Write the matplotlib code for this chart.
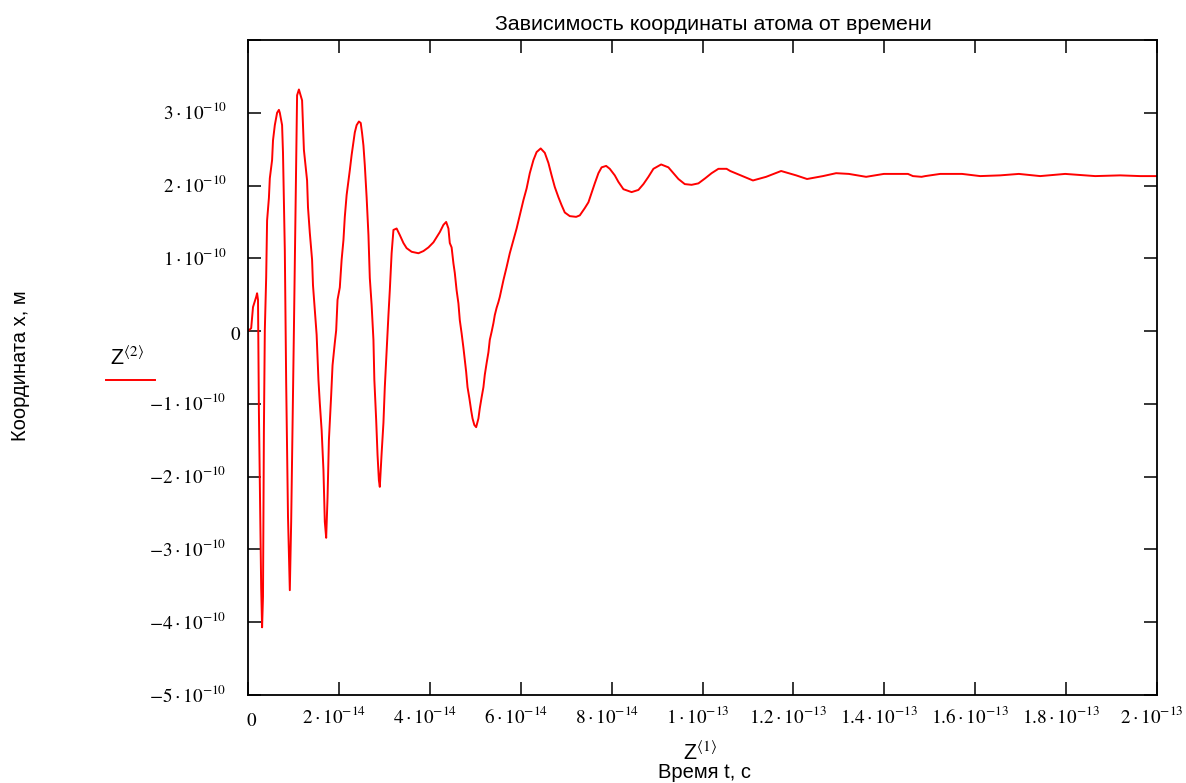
import numpy as np
import matplotlib
matplotlib.use('Agg')
import matplotlib.pyplot as plt
import matplotlib.transforms as mtransforms
from matplotlib.lines import Line2D

plt.rcParams['mathtext.fontset'] = 'stix'
plt.rcParams['font.family'] = ['Liberation Sans', 'DejaVu Sans']

# ---- data: time in 1e-14 s, coordinate in 1e-10 m ----
time_e14 = [
    0.00, 0.07, 0.11, 0.18, 0.20, 0.22, 0.24, 0.29, 0.31, 0.33, 0.35, 0.37, 0.40, 0.42,
    0.46, 0.48, 0.53, 0.55, 0.59, 0.64, 0.68, 0.70, 0.75, 0.77, 0.81, 0.84, 0.88, 0.92,
    0.95, 0.99, 1.01, 1.06, 1.08, 1.12, 1.19, 1.23, 1.30, 1.32, 1.36, 1.41, 1.43, 1.47,
    1.51, 1.55, 1.58, 1.62, 1.66, 1.69, 1.72, 1.75, 1.78, 1.83, 1.86, 1.91, 1.94, 1.97,
    2.02, 2.06, 2.10, 2.13, 2.17, 2.24, 2.28, 2.32, 2.35, 2.39, 2.44, 2.48, 2.51, 2.54,
    2.57, 2.61, 2.65, 2.68, 2.72, 2.76, 2.78, 2.82, 2.85, 2.88, 2.90, 2.94, 2.98, 3.01,
    3.05, 3.09, 3.12, 3.16, 3.20, 3.27, 3.34, 3.42, 3.49, 3.60, 3.75, 3.86, 3.97, 4.08,
    4.15, 4.22, 4.30, 4.36, 4.41, 4.44, 4.48, 4.52, 4.55, 4.59, 4.63, 4.66, 4.70, 4.74,
    4.77, 4.80, 4.83, 4.87, 4.91, 4.94, 4.98, 5.02, 5.07, 5.10, 5.14, 5.18, 5.21, 5.25,
    5.29, 5.32, 5.36, 5.40, 5.43, 5.47, 5.51, 5.54, 5.62, 5.69, 5.76, 5.84, 5.91, 5.98,
    6.06, 6.13, 6.20, 6.28, 6.35, 6.44, 6.53, 6.61, 6.68, 6.75, 6.83, 6.90, 6.97, 7.08,
    7.22, 7.30, 7.41, 7.49, 7.56, 7.63, 7.71, 7.78, 7.88, 7.96, 8.07, 8.15, 8.26, 8.44,
    8.59, 8.70, 8.81, 8.92, 9.09, 9.25, 9.36, 9.47, 9.61, 9.76, 9.91, 10.06, 10.20, 10.35,
    10.53, 10.61, 11.11, 11.40, 11.73, 12.06, 12.30, 12.65, 12.94, 13.22, 13.60, 13.99,
    14.52, 14.63, 14.82, 14.90, 15.23, 15.71, 16.11, 16.55, 16.96, 17.43, 17.98, 18.64,
    19.19, 19.63, 20.00,
]
coord_e10 = [
    0.00, 0.04, 0.33, 0.47, 0.52, 0.43, -1.11, -3.53, -4.07, -3.65, -1.36, 0.01, 0.74, 1.52,
    1.83, 2.10, 2.35, 2.62, 2.83, 3.00, 3.04, 3.00, 2.83, 2.45, 1.11, -0.71, -2.55, -3.56,
    -2.62, -0.88, 0.01, 2.39, 3.24, 3.32, 3.17, 2.49, 2.07, 1.70, 1.35, 0.98, 0.63, 0.29,
    -0.05, -0.67, -0.99, -1.36, -1.91, -2.62, -2.84, -2.29, -1.50, -0.88, -0.47, -0.16, 0.01, 0.43,
    0.60, 0.98, 1.25, 1.57, 1.87, 2.21, 2.42, 2.60, 2.73, 2.83, 2.88, 2.86, 2.72, 2.55,
    2.28, 1.84, 1.32, 0.73, 0.36, -0.12, -0.67, -1.22, -1.70, -2.05, -2.14, -1.68, -1.26, -0.77,
    -0.26, 0.22, 0.56, 1.07, 1.39, 1.41, 1.32, 1.21, 1.14, 1.09, 1.07, 1.10, 1.15, 1.22,
    1.29, 1.36, 1.46, 1.50, 1.41, 1.21, 1.15, 0.93, 0.80, 0.56, 0.38, 0.15, -0.03, -0.23,
    -0.40, -0.56, -0.77, -0.92, -1.09, -1.20, -1.29, -1.32, -1.20, -1.06, -0.91, -0.77, -0.60, -0.44,
    -0.29, -0.12, -0.01, 0.11, 0.22, 0.32, 0.40, 0.47, 0.70, 0.88, 1.07, 1.25, 1.41, 1.59,
    1.80, 1.96, 2.17, 2.35, 2.46, 2.51, 2.45, 2.31, 2.14, 1.98, 1.84, 1.73, 1.63, 1.58,
    1.57, 1.59, 1.69, 1.77, 1.90, 2.03, 2.17, 2.25, 2.27, 2.23, 2.14, 2.05, 1.95, 1.91,
    1.94, 2.02, 2.12, 2.23, 2.29, 2.25, 2.17, 2.09, 2.02, 2.01, 2.03, 2.10, 2.17, 2.23,
    2.23, 2.20, 2.07, 2.12, 2.20, 2.14, 2.09, 2.13, 2.17, 2.16, 2.12, 2.16,
    2.16, 2.13, 2.12, 2.13, 2.16, 2.16, 2.13, 2.14, 2.16, 2.13, 2.16, 2.13,
    2.14, 2.13, 2.13,
]

x_tick_values = [0, 2e-14, 4e-14, 6e-14, 8e-14, 1e-13, 1.2e-13, 1.4e-13, 1.6e-13, 1.8e-13, 2e-13]
x_tick_labels = [r'$0$', r'$2\cdot10^{-14}$', r'$4\cdot10^{-14}$', r'$6\cdot10^{-14}$',
                 r'$8\cdot10^{-14}$', r'$1\cdot10^{-13}$', r'$1.2\cdot10^{-13}$',
                 r'$1.4\cdot10^{-13}$', r'$1.6\cdot10^{-13}$', r'$1.8\cdot10^{-13}$',
                 r'$2\cdot10^{-13}$']
y_tick_values = [-5e-10, -4e-10, -3e-10, -2e-10, -1e-10, 0, 1e-10, 2e-10, 3e-10, 4e-10]
y_tick_labels = [r'$-5\cdot10^{-10}$', r'$-4\cdot10^{-10}$', r'$-3\cdot10^{-10}$',
                 r'$-2\cdot10^{-10}$', r'$-1\cdot10^{-10}$', r'$0$', r'$1\cdot10^{-10}$',
                 r'$2\cdot10^{-10}$', r'$3\cdot10^{-10}$', '']

time_s = np.array(time_e14) * 1e-14
coord_m = np.array(coord_e10) * 1e-10

W, H = 1186, 783
fig = plt.figure(figsize=(W / 100, H / 100), dpi=100)
ax = fig.add_axes([248 / W, (H - 695) / H, (1157 - 248) / W, (695 - 40) / H])

ax.plot(time_s, coord_m, color='#ff0000', lw=1.4)

ax.set_xlim(0, 2e-13)
ax.set_ylim(-5e-10, 4e-10)
ax.set_xticks(x_tick_values)
ax.set_xticklabels(x_tick_labels)
ax.set_yticks(y_tick_values)
ax.set_yticklabels(y_tick_labels)
ax.tick_params(direction='in', length=9.5, width=1.1, color='black',
               top=True, right=True, labelsize=13.8)
ax.tick_params(axis='x', pad=8)
ax.tick_params(axis='y', pad=16)
for s in ax.spines.values():
    s.set_linewidth(1.3)
    s.set_color('black')

for lbl in ax.get_yticklabels():
    lbl.set_va('center')

# Mathcad places the labels slightly off the tick centres
dpi_scale = fig.dpi_scale_trans
for lbl, txt in zip(ax.get_xticklabels(), x_tick_labels):
    if txt == r'$0$':
        off = mtransforms.ScaledTranslation(4 / 100, -7 / 100, dpi_scale)
    else:
        off = mtransforms.ScaledTranslation(-5 / 100, 0, dpi_scale)
    lbl.set_transform(lbl.get_transform() + off)
for lbl, txt in zip(ax.get_yticklabels(), y_tick_labels):
    if txt == r'$0$':
        lbl.set_transform(lbl.get_transform() + mtransforms.ScaledTranslation(15 / 100, -4 / 100, dpi_scale))
    else:
        lbl.set_transform(lbl.get_transform() + mtransforms.ScaledTranslation(1 / 100, 0, dpi_scale))

def fx(px):
    return px / W

def fy(py):
    return 1 - py / H

fig.text(fx(713), fy(24), 'Зависимость координаты атома от времени',
         ha='center', va='center', fontsize=15.4)
fig.text(fx(21), fy(366), 'Координата x, м', rotation=90,
         ha='center', va='center', fontsize=14.5)
fig.text(fx(110), fy(365), r'Z$^{\langle 2\rangle}$', ha='left', va='baseline', fontsize=15.5)
fig.add_artist(Line2D([fx(106), fx(155)], [fy(380), fy(380)], color='#ff0000', lw=1.4))
fig.text(fx(683), fy(760), r'Z$^{\langle 1\rangle}$', ha='left', va='baseline', fontsize=15.5)
fig.text(fx(705), fy(773), 'Время t, с', ha='center', va='center', fontsize=14.5)

fig.savefig('out.png', dpi=100)
